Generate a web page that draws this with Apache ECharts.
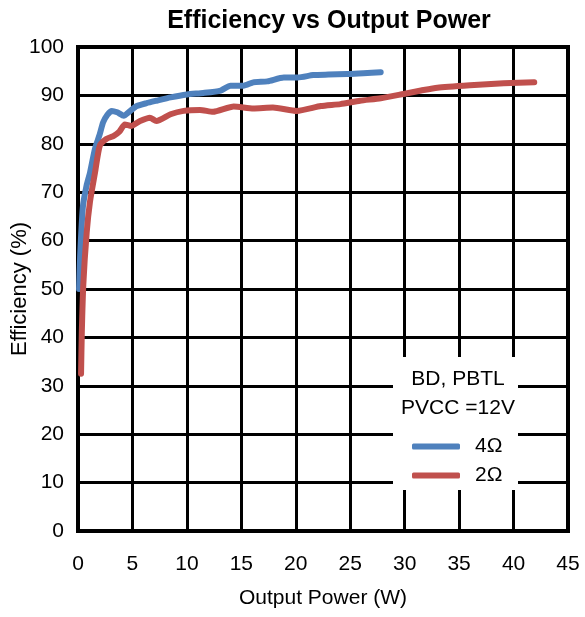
<!DOCTYPE html>
<html><head><meta charset="utf-8">
<script src="https://cdn.jsdelivr.net/npm/echarts@6/dist/echarts.min.js"></script>
<style>html,body{margin:0;padding:0;background:#fff}#c{width:585px;height:617px}</style>
</head><body><div id="c"></div>
<script>
const titleText = 'Efficiency vs Output Power';
const xName = 'Output Power (W)';
const yName = 'Efficiency (%)';
const noteLines = ['BD, PBTL', 'PVCC =12V'];
const seriesNames = ['4Ω', '2Ω'];
const seriesColors = ['#4f81bd', '#c0504d'];
const blueX = [0.1, 0.2, 0.45, 0.8, 1.1, 1.56, 2.0, 2.3, 2.7, 3.1, 3.6, 4.2, 4.8, 5.4, 6.3, 7.2, 8.5, 10, 11.5, 13.1, 14, 15.2, 16.1, 17.4, 18.9, 20.2, 21.6, 23, 24.7, 26.2, 27.8];
const blueY = [50, 57, 67, 71.5, 74, 79, 82, 84.4, 86, 86.8, 86.5, 85.8, 86.8, 87.8, 88.4, 88.9, 89.6, 90.2, 90.5, 91, 92, 92, 92.7, 92.9, 93.7, 93.7, 94.2, 94.3, 94.4, 94.6, 94.8];
const redX = [0.28, 0.35, 0.49, 0.8, 1.1, 1.56, 2.0, 2.6, 3.25, 3.8, 4.3, 4.9, 5.7, 6.6, 7.2, 8.5, 9.7, 11.2, 12.4, 14.3, 16.1, 17.9, 20.1, 22.3, 24.1, 25.9, 27.8, 29.9, 31.5, 33, 36, 39.1, 41.9];
const redY = [32.5, 41, 51, 61.7, 68, 74, 79.6, 81, 81.6, 82.5, 84, 83.7, 84.7, 85.4, 84.7, 86.1, 86.8, 87, 86.6, 87.7, 87.3, 87.5, 86.8, 87.8, 88.2, 88.9, 89.4, 90.3, 91, 91.6, 92.1, 92.5, 92.7];

const FONT = '"Liberation Sans", Arial, sans-serif';
const chart = echarts.init(document.getElementById('c'));
const pair = (xs, ys) => xs.map((x, i) => [x, ys[i]]);
chart.setOption({
  animation: false,
  title: {text: titleText, left: 324, textAlign: 'center', top: 4,
    textStyle: {fontFamily: FONT, fontWeight: 'bold', fontSize: 25, color: '#000'}},
  grid: {left: 78, right: 17, top: 47, bottom: 86, containLabel: false, outerBoundsMode: 'none',
    show: true, borderColor: '#000', borderWidth: 4},
  xAxis: {type: 'value', min: 0, max: 45, interval: 5,
    name: xName, nameLocation: 'middle', nameGap: 57, nameMoveOverlap: false,
    nameTextStyle: {fontFamily: FONT, fontSize: 21, color: '#000'},
    axisLine: {lineStyle: {color: '#000', width: 4}},
    axisTick: {show: false},
    axisLabel: {fontFamily: FONT, fontSize: 21, color: '#000', margin: 23},
    splitLine: {lineStyle: {color: '#000', width: 3}}},
  yAxis: {type: 'value', min: 0, max: 100, interval: 10,
    name: yName, nameLocation: 'middle', nameGap: 47, nameMoveOverlap: false,
    nameTextStyle: {fontFamily: FONT, fontSize: 22, color: '#000'},
    axisLine: {lineStyle: {color: '#000', width: 4}},
    axisTick: {show: false},
    axisLabel: {fontFamily: FONT, fontSize: 21, color: '#000', margin: 14},
    splitLine: {lineStyle: {color: '#000', width: 3}}},
  legend: {orient: 'vertical', left: 407, top: 431, itemWidth: 48, itemHeight: 6, itemGap: 8,
    icon: 'roundRect', z: 20,
    textStyle: {fontFamily: FONT, fontSize: 21, color: '#000', padding: [0, 0, 0, 10]},
    data: seriesNames},
  graphic: [
    {type: 'rect', z: 10, shape: {x: 393, y: 357, width: 125, height: 133}, style: {fill: '#fff'}},
    {type: 'text', z: 11, x: 458, y: 379, style: {text: noteLines[0], font: '21px ' + FONT, fill: '#000', textAlign: 'center', textVerticalAlign: 'middle'}},
    {type: 'text', z: 11, x: 458, y: 408, style: {text: noteLines[1], font: '21px ' + FONT, fill: '#000', textAlign: 'center', textVerticalAlign: 'middle'}}
  ],
  series: [
    {name: seriesNames[0], type: 'line', data: pair(blueX, blueY), showSymbol: false, smooth: 0.2,
      color: seriesColors[0], lineStyle: {width: 6, cap: 'round', join: 'round'}},
    {name: seriesNames[1], type: 'line', data: pair(redX, redY), showSymbol: false, smooth: 0.2,
      color: seriesColors[1], lineStyle: {width: 6, cap: 'round', join: 'round'}}
  ]
});
</script></body></html>
